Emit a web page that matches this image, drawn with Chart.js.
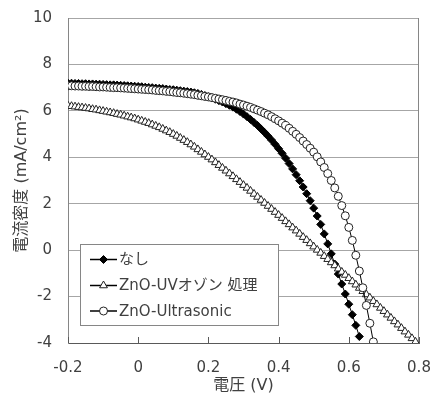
<!DOCTYPE html>
<html>
<head>
<meta charset="utf-8">
<script src="https://cdn.jsdelivr.net/npm/chart.js@4.4.0/dist/chart.umd.min.js"></script>
<style>
    html, body { margin: 0; padding: 0; background: #fff; }
</style>
</head>
<body>
<canvas id="canvas" width="430" height="403"></canvas>
<script>
/* 電圧 (V), 0.01 V steps */
var voltage = [
    -0.20, -0.19, -0.18, -0.17, -0.16, -0.15, -0.14, -0.13, -0.12, -0.11,
    -0.10, -0.09, -0.08, -0.07, -0.06, -0.05, -0.04, -0.03, -0.02, -0.01,
    0.00, 0.01, 0.02, 0.03, 0.04, 0.05, 0.06, 0.07, 0.08, 0.09,
    0.10, 0.11, 0.12, 0.13, 0.14, 0.15, 0.16, 0.17, 0.18, 0.19,
    0.20, 0.21, 0.22, 0.23, 0.24, 0.25, 0.26, 0.27, 0.28, 0.29,
    0.30, 0.31, 0.32, 0.33, 0.34, 0.35, 0.36, 0.37, 0.38, 0.39,
    0.40, 0.41, 0.42, 0.43, 0.44, 0.45, 0.46, 0.47, 0.48, 0.49,
    0.50, 0.51, 0.52, 0.53, 0.54, 0.55, 0.56, 0.57, 0.58, 0.59,
    0.60, 0.61, 0.62, 0.63, 0.64, 0.65, 0.66, 0.67, 0.68, 0.69,
    0.70, 0.71, 0.72, 0.73, 0.74, 0.75, 0.76, 0.77, 0.78, 0.79,
    0.80];

var seriesNames = ["なし", "ZnO-UVオゾン 処理", "ZnO-Ultrasonic"];

/* 電流密度 (mA/cm2) */
var jNone = [
    7.19, 7.19, 7.18, 7.18, 7.17, 7.17, 7.16, 7.16, 7.15, 7.15,
    7.14, 7.13, 7.12, 7.12, 7.11, 7.10, 7.09, 7.08, 7.07, 7.06,
    7.05, 7.04, 7.02, 7.01, 7.00, 6.98, 6.97, 6.96, 6.94, 6.92,
    6.91, 6.89, 6.87, 6.85, 6.83, 6.81, 6.78, 6.75, 6.71, 6.66,
    6.61, 6.56, 6.50, 6.44, 6.38, 6.31, 6.24, 6.16, 6.07, 5.97,
    5.86, 5.75, 5.63, 5.50, 5.37, 5.22, 5.07, 4.91, 4.74, 4.56,
    4.37, 4.17, 3.96, 3.73, 3.50, 3.25, 2.99, 2.72, 2.43, 2.13,
    1.81, 1.47, 1.11, 0.70, 0.27, -0.16, -0.60, -1.03, -1.46, -1.89,
    -2.33, -2.78, -3.24, -3.72];

var jUV = [
    6.22, 6.20, 6.18, 6.16, 6.14, 6.12, 6.10, 6.07, 6.05, 6.02,
    5.99, 5.96, 5.93, 5.90, 5.86, 5.83, 5.79, 5.75, 5.71, 5.67,
    5.62, 5.57, 5.52, 5.47, 5.41, 5.35, 5.29, 5.22, 5.15, 5.08,
    5.00, 4.92, 4.83, 4.74, 4.65, 4.55, 4.45, 4.34, 4.23, 4.12,
    4.01, 3.90, 3.78, 3.66, 3.54, 3.42, 3.30, 3.18, 3.05, 2.93,
    2.80, 2.68, 2.55, 2.42, 2.29, 2.16, 2.03, 1.90, 1.77, 1.64,
    1.51, 1.38, 1.24, 1.11, 0.97, 0.84, 0.70, 0.56, 0.43, 0.29,
    0.15, 0.01, -0.12, -0.26, -0.39, -0.53, -0.66, -0.80, -0.94, -1.07,
    -1.21, -1.35, -1.49, -1.63, -1.77, -1.91, -2.05, -2.20, -2.34, -2.49,
    -2.63, -2.78, -2.92, -3.07, -3.21, -3.36, -3.51, -3.65, -3.80, -3.95];

var jUltrasonic = [
    7.08, 7.08, 7.07, 7.07, 7.06, 7.06, 7.05, 7.05, 7.04, 7.03,
    7.03, 7.02, 7.01, 7.00, 7.00, 6.99, 6.98, 6.97, 6.96, 6.95,
    6.94, 6.93, 6.92, 6.91, 6.90, 6.88, 6.87, 6.86, 6.84, 6.83,
    6.81, 6.79, 6.78, 6.76, 6.74, 6.72, 6.70, 6.67, 6.65, 6.62,
    6.60, 6.57, 6.54, 6.51, 6.48, 6.45, 6.41, 6.38, 6.34, 6.29,
    6.25, 6.20, 6.15, 6.09, 6.03, 5.97, 5.90, 5.83, 5.75, 5.66,
    5.57, 5.47, 5.37, 5.25, 5.12, 4.99, 4.85, 4.70, 4.55, 4.39,
    4.22, 4.02, 3.80, 3.56, 3.30, 3.00, 2.68, 2.32, 1.92, 1.48,
    0.98, 0.42, -0.22, -0.90, -1.62, -2.38, -3.15, -3.95];

var xTicks = [-0.2, 0, 0.2, 0.4, 0.6, 0.8];
var xTickLabels = ["-0.2", "0", "0.2", "0.4", "0.6", "0.8"];
var yTicks = [-4, -2, 0, 2, 4, 6, 8, 10];

var fontFamily = "'DejaVu Sans', 'Noto Sans CJK JP', sans-serif";
var textColor = '#404040';

var toPoints = function (ys) {
    var pts = [];
    for (var i = 0; i < ys.length; i++) {
        pts.push({x: voltage[i], y: ys[i]});
    }
    return pts;
};

// plot frame + inward x tick marks
var frame = {
    id: 'frame',
    beforeDatasetsDraw: function (chart) {
        var a = chart.chartArea, ctx = chart.ctx, xs = chart.scales.x;
        ctx.save();
        ctx.strokeStyle = '#868686';
        ctx.lineWidth = 1;
        ctx.beginPath();
        ctx.moveTo(Math.round(a.right) - 0.5, a.top);
        ctx.lineTo(Math.round(a.right) - 0.5, a.bottom);
        ctx.stroke();
        ctx.strokeStyle = '#595959';
        ctx.beginPath();
        for (var i = 0; i < xTicks.length; i++) {
            var px = Math.round(xs.getPixelForValue(xTicks[i])) + 0.5;
            ctx.moveTo(px, a.bottom);
            ctx.lineTo(px, a.bottom - 6);
        }
        ctx.stroke();
        ctx.restore();
    }
};

// boxed legend inside the plot, line + marker samples
var boxLegend = {
    id: 'boxLegend',
    afterDatasetsDraw: function (chart, args, opts) {
        var ctx = chart.ctx;
        ctx.save();
        ctx.fillStyle = '#fff';
        ctx.fillRect(opts.left, opts.top, opts.width, opts.height);
        ctx.strokeStyle = '#868686';
        ctx.lineWidth = 1;
        ctx.strokeRect(opts.left + 0.5, opts.top + 0.5, opts.width, opts.height);
        ctx.font = '15px ' + fontFamily;
        ctx.textBaseline = 'middle';
        chart.data.datasets.forEach(function (ds, i) {
            var y = opts.rows[i];
            ctx.strokeStyle = '#000';
            ctx.lineWidth = 1.5;
            ctx.beginPath();
            ctx.moveTo(opts.lineX0, y);
            ctx.lineTo(opts.lineX1, y);
            ctx.stroke();
            ctx.fillStyle = ds.pointBackgroundColor;
            ctx.strokeStyle = ds.pointBorderColor;
            ctx.lineWidth = 1;
            Chart.helpers.drawPoint(ctx, {
                pointStyle: ds.pointStyle,
                radius: ds.pointRadius,
                borderWidth: 1,
                rotation: 0
            }, (opts.lineX0 + opts.lineX1) / 2, y);
            ctx.fillStyle = textColor;
            ctx.fillText(ds.label, opts.textX, y + 1);
        });
        ctx.restore();
    }
};

var config = {
    type: 'line',
    data: {
        datasets: [{
            label: seriesNames[0],
            data: toPoints(jNone),
            borderColor: '#000',
            borderWidth: 1,
            pointStyle: 'rectRot',
            pointRadius: 4,
            pointBackgroundColor: '#000',
            pointBorderColor: '#000',
            pointBorderWidth: 1,
            order: 3
        }, {
            label: seriesNames[1],
            data: toPoints(jUV),
            borderColor: '#000',
            borderWidth: 1,
            pointStyle: 'triangle',
            pointRadius: 4.5,
            pointBackgroundColor: '#fff',
            pointBorderColor: '#222',
            pointBorderWidth: 1,
            order: 2
        }, {
            label: seriesNames[2],
            data: toPoints(jUltrasonic),
            borderColor: '#000',
            borderWidth: 1,
            pointStyle: 'circle',
            pointRadius: 4,
            pointBackgroundColor: '#fff',
            pointBorderColor: '#222',
            pointBorderWidth: 1,
            order: 1
        }]
    },
    options: {
        responsive: false,
        animation: false,
        layout: {padding: {left: 0, right: 11, top: 18, bottom: 0}},
        plugins: {
            legend: {display: false},
            tooltip: {enabled: false},
            boxLegend: {
                left: 80, top: 244, width: 198, height: 81,
                rows: [259.5, 285.5, 311],
                lineX0: 90, lineX1: 117, textX: 119
            }
        },
        scales: {
            x: {
                type: 'linear',
                min: -0.2,
                max: 0.8,
                afterBuildTicks: function (scale) {
                    scale.ticks = xTicks.map(function (v) { return {value: v}; });
                },
                afterFit: function (scale) {
                    scale.height = 60;
                    scale.paddingLeft = 0;
                    scale.paddingRight = 0;
                },
                ticks: {
                    autoSkip: false,
                    maxRotation: 0,
                    padding: 16,
                    color: textColor,
                    font: {family: fontFamily, size: 15},
                    callback: function (v, i) { return xTickLabels[i]; }
                },
                grid: {drawOnChartArea: false, drawTicks: false},
                border: {color: '#595959', width: 1},
                title: {
                    display: true,
                    text: '電圧 (V)',
                    color: textColor,
                    font: {family: fontFamily, size: 16},
                    padding: {top: 0, bottom: 8}
                }
            },
            y: {
                type: 'linear',
                min: -4,
                max: 10,
                afterBuildTicks: function (scale) {
                    scale.ticks = yTicks.map(function (v) { return {value: v}; });
                },
                afterFit: function (scale) {
                    scale.width = 68;
                    scale.paddingTop = 0;
                    scale.paddingBottom = 0;
                },
                ticks: {
                    padding: 16,
                    color: textColor,
                    font: {family: fontFamily, size: 15}
                },
                grid: {color: '#a6a6a6', drawTicks: false},
                border: {color: '#868686', width: 1},
                title: {
                    display: true,
                    text: '電流密度 (mA/cm²)',
                    color: textColor,
                    font: {family: fontFamily, size: 16},
                    padding: {top: 12, bottom: 0}
                }
            }
        }
    },
    plugins: [frame, boxLegend]
};

var ctx = document.getElementById("canvas").getContext("2d");
new Chart(ctx, config);
</script>
</body>
</html>
